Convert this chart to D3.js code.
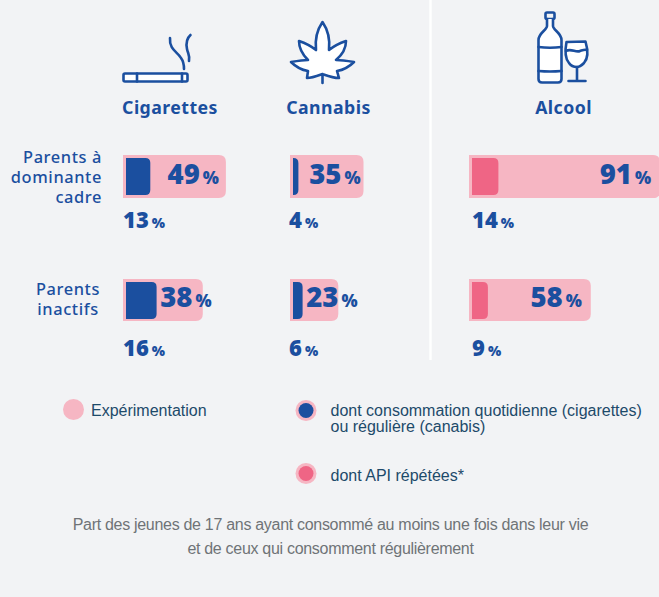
<!DOCTYPE html>
<html lang="fr">
<head>
<meta charset="utf-8">
<title>Consommation des jeunes de 17 ans selon le milieu social</title>
<script src="https://cdn.jsdelivr.net/npm/d3@7"></script>
<style>
  html, body { margin: 0; padding: 0; background: #f2f3f5; }
  svg { display: block; }
  .head { font: 700 17.7px "Noto Sans", sans-serif; letter-spacing: .45px; fill: #1b4f9f; text-anchor: middle; }
  .group { font: 500 16.4px "Noto Sans", sans-serif; letter-spacing: .6px; fill: #1b4f9f; }
  .num { font-family: "Noto Sans", sans-serif; font-weight: 900; fill: #1b4f9f; }
  .legend { font: 16px "Liberation Sans", Arial, sans-serif; fill: #1d4a6a; }
  .note { font: 16px "Liberation Sans", Arial, sans-serif; letter-spacing: -.3px; fill: #6f7377; text-anchor: middle; }
  .icon { fill: none; stroke: #1b4f9f; stroke-width: 2.6; stroke-linecap: round; stroke-linejoin: round; }
  .icon .white { fill: #fff; }
</style>
</head>
<body>
<div id="chart"></div>
<script>
// Values in percent, one list per product, in the order of parentGroups.
const products = ["Cigarettes", "Cannabis", "Alcool"];
const parentGroups = [["Parents à", "dominante", "cadre"], ["Parents", "inactifs"]];
const cigarettesEver = [49, 38];
const cigarettesRegular = [13, 16];
const cannabisEver = [35, 23];
const cannabisRegular = [4, 6];
const alcoolEver = [91, 58];
const alcoolRepeated = [14, 9];
const legendLabels = [
  ["Expérimentation"],
  ["dont consommation quotidienne (cigarettes)", "ou régulière (canabis)"],
  ["dont API répétées*"]
];
const noteLines = [
  "Part des jeunes de 17 ans ayant consommé au moins une fois dans leur vie",
  "et de ceux qui consomment régulièrement"
];

const everSeries = [cigarettesEver, cannabisEver, alcoolEver];
const subSeries = [cigarettesRegular, cannabisRegular, alcoolRepeated];

const width = 659, height = 597;
const PINK = "#f6b6c3", BLUE = "#1b4f9f", ROSE = "#ef6585";

const svg = d3.select("#chart").append("svg")
  .attr("width", width).attr("height", height)
  .attr("viewBox", [0, 0, width, height]);

svg.append("rect").attr("width", width).attr("height", height).attr("fill", "#f2f3f5");

// Layout of columns and rows
const columnX = d3.scaleOrdinal().domain(products).range([123, 290, 469]);
const headX = d3.scaleOrdinal().domain(products).range([170, 328.5, 563.5]);
const subColor = d3.scaleOrdinal().domain(products).range([BLUE, BLUE, ROSE]);
const subLabelShift = d3.scaleOrdinal().domain(products).range([0, -1, 3]);
const labelInset = d3.scaleOrdinal().domain(products).range([7, 3, 9]);
const rowTop = d3.scaleOrdinal().domain([0, 1]).range([155, 279]);
const rowSubBase = d3.scaleOrdinal().domain([0, 1]).range([228, 356]);
const length = d3.scaleLinear().domain([0, 100]).range([0, 210]);
const barH = 42, inset = 3;

// Bar with square left corners and rounded right corners
const rightRounded = (x, y, w, h, r) => {
  const p = d3.path();
  const rr = Math.min(r, w);
  p.moveTo(x, y);
  p.lineTo(x + w - rr, y);
  p.quadraticCurveTo(x + w, y, x + w, y + rr);
  p.lineTo(x + w, y + h - rr);
  p.quadraticCurveTo(x + w, y + h, x + w - rr, y + h);
  p.lineTo(x, y + h);
  p.closePath();
  return p.toString();
};

// Separator between tobacco/cannabis and alcohol
svg.append("line").attr("x1", 430.5).attr("x2", 430.5).attr("y1", 0).attr("y2", 360)
  .attr("stroke", "#ffffff").attr("stroke-width", 2.4);

// Column titles
svg.selectAll("text.head").data(products).join("text")
  .attr("class", "head").attr("x", d => headX(d)).attr("y", 113.5).text(d => d);

// Row titles
const groupX = [102, 68], groupAnchor = ["end", "middle"], groupFirstBase = [163, 295];
parentGroups.forEach((lines, r) => {
  svg.append("g").selectAll("text").data(lines).join("text")
    .attr("class", "group")
    .attr("x", groupX[r]).attr("text-anchor", groupAnchor[r])
    .attr("y", (d, i) => groupFirstBase[r] + i * 20)
    .text(d => d);
});

// A number followed by a smaller percent sign
const valueLabel = (sel, v, bigSize, pctSize) => {
  sel.append("tspan").attr("font-size", bigSize).text(v);
  sel.append("tspan").attr("font-size", pctSize).attr("dx", 3).text("%");
};

products.forEach((prod, c) => {
  const x0 = columnX(prod);
  const g = svg.append("g");
  everSeries[c].forEach((ever, r) => {
    const sub = subSeries[c][r];
    const top = rowTop(r);
    g.append("path")
      .attr("d", rightRounded(x0, top, length(ever), barH + (r === 0 ? 1 : 0), 7))
      .attr("fill", PINK);
    const innerW = length(sub) - inset;
    g.append("path")
      .attr("d", rightRounded(x0 + inset, top + 3, innerW, barH - 5, 5))
      .attr("fill", subColor(prod));
    const innerEnd = x0 + length(sub);
    const labelEnd = Math.max(x0 + length(ever) - labelInset(prod), innerEnd + 55);
    g.append("text").attr("class", "num")
      .attr("x", labelEnd).attr("y", top + (r === 0 ? 29 : 28)).attr("text-anchor", "end")
      .call(valueLabel, ever, 27.5, 17);
    g.append("text").attr("class", "num")
      .attr("x", x0 + subLabelShift(prod)).attr("y", rowSubBase(r))
      .call(valueLabel, sub, 22, 14);
  });
});

// Icons
const cig = svg.append("g").attr("class", "icon");
cig.append("rect").attr("class", "white").attr("x", 123.5).attr("y", 73.5).attr("width", 64).attr("height", 8).attr("rx", 1.5);
cig.append("line").attr("x1", 137).attr("x2", 137).attr("y1", 73.5).attr("y2", 81.5);
cig.append("line").attr("x1", 182).attr("x2", 182).attr("y1", 73.5).attr("y2", 81.5);
cig.append("path").attr("d", "M170 38C169 50 178 52 181 58C184 62 184 66 184 69");
cig.append("path").attr("d", "M190.5 35C186 39 186 44 187 49C188 54 190 55 189 61");

svg.append("g").attr("class", "icon").append("path").attr("class", "white")
  .attr("d", "M322.5 22C328 30 330 41 329 50C334 46 340 43 346 41C346 48 342 55 336 60C342 60 348 61 354 62C349 67 343 70 337 71L339 78C333 78 328 76 322.5 74L322.5 83L322.5 74C317 76 312 78 307 78L308 71C302 70 296 67 291 62C297 61 303 60 308 60C303 55 299 48 299 41C305 43 311 46 316 50C315 41 317 30 322.5 22Z");

const alc = svg.append("g").attr("class", "icon");
alc.append("rect").attr("x", 545.5).attr("y", 12.5).attr("width", 9).attr("height", 6.5).attr("rx", 1.5);
alc.append("path").attr("class", "white")
  .attr("d", "M547 19L547 26C547 30 538.5 33 538.5 40L538.5 79Q538.5 82.5 542 82.5L558 82.5Q561.5 82.5 561.5 79L561.5 40C561.5 33 553 30 553 26L553 19");
alc.append("path").attr("d", "M538.5 47Q550 48.5 561.5 47M538.5 71Q550 72 561.5 71");
alc.append("path").attr("class", "white")
  .attr("d", "M566.5 42L585.5 41.5C588 50 588.5 58 584 63C581 66 579 67 577 67C574 67 571 66 569 63C564.5 58 565 50 566.5 42Z");
alc.append("path").attr("d", "M566 51C571 48 576 53 580 51C583 50 585 49 587 50M577 67L577 80M568.5 81L585.5 81");

// Legend
const legendRows = [
  { x: 73.5, y: 409.5, core: PINK, tx: 91, by: 415.5 },
  { x: 306, y: 410.5, core: BLUE, tx: 330.5, by: 416 },
  { x: 306, y: 473.5, core: ROSE, tx: 330.5, by: 481 }
];
const lg = svg.append("g");
legendRows.forEach((row, i) => {
  lg.append("circle").attr("cx", row.x).attr("cy", row.y).attr("r", 10.5).attr("fill", PINK);
  lg.append("circle").attr("cx", row.x).attr("cy", row.y).attr("r", 7.5).attr("fill", row.core);
  lg.append("g").selectAll("text").data(legendLabels[i]).join("text")
    .attr("class", "legend").attr("x", row.tx)
    .attr("y", (d, k) => row.by + k * 16)
    .text(d => d);
});

// Caption
svg.append("g").selectAll("text").data(noteLines).join("text")
  .attr("class", "note").attr("x", 330.5)
  .attr("y", (d, i) => 530 + i * 24)
  .text(d => d);
</script>
</body>
</html>
